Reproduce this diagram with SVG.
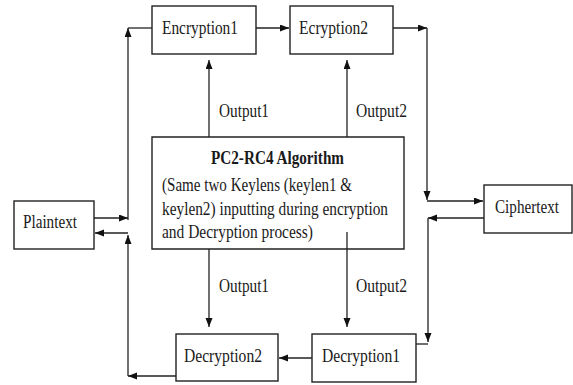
<svg xmlns="http://www.w3.org/2000/svg" width="573" height="385" viewBox="0 0 573 385">
<style>
.box{fill:#fff;stroke:#222;stroke-width:1.4}
.t{font-family:"Liberation Serif","Times New Roman",serif;font-size:19px;fill:#1a1a1a}
.b{font-weight:bold}
.c{fill:none;stroke:#222;stroke-width:1.3}
</style>
<defs>
<marker id="ah" markerUnits="userSpaceOnUse" markerWidth="10" markerHeight="8" refX="9" refY="3.5" orient="auto">
<path d="M0,0 L9,3.5 L0,7 z" fill="#111"/>
</marker>
</defs>
<rect width="573" height="385" fill="#fff"/>
<g id="connectors">
<path class="c" d="M94,218 H128" marker-end="url(#ah)"/>
<path class="c" d="M128,220 V28" marker-end="url(#ah)"/>
<path class="c" d="M128,28 H152"/>
<path class="c" d="M256,28 H289" marker-end="url(#ah)"/>
<path class="c" d="M393,28 H427" marker-end="url(#ah)"/>
<path class="c" d="M427,28 V200" marker-end="url(#ah)"/>
<path class="c" d="M427,201 H483" marker-end="url(#ah)"/>
<path class="c" d="M484,218 H428" marker-end="url(#ah)"/>
<path class="c" d="M428,218 V342" marker-end="url(#ah)"/>
<path class="c" d="M416,344 H428"/>
<path class="c" d="M312,358 H279" marker-end="url(#ah)"/>
<path class="c" d="M176,376 H128" marker-end="url(#ah)"/>
<path class="c" d="M128,376 V235" marker-end="url(#ah)"/>
<path class="c" d="M128,233 H95" marker-end="url(#ah)"/>
<path class="c" d="M209,137 V60" marker-end="url(#ah)"/>
<path class="c" d="M347,137 V60" marker-end="url(#ah)"/>
<path class="c" d="M209,249 V327" marker-end="url(#ah)"/>
<path class="c" d="M347,232 V327" marker-end="url(#ah)"/>
<text class="t" x="219" y="117" textLength="50" lengthAdjust="spacingAndGlyphs">Output1</text>
<text class="t" x="356" y="117" textLength="51" lengthAdjust="spacingAndGlyphs">Output2</text>
<text class="t" x="219" y="292" textLength="50" lengthAdjust="spacingAndGlyphs">Output1</text>
<text class="t" x="356" y="292" textLength="51" lengthAdjust="spacingAndGlyphs">Output2</text>
</g>
<g id="plaintext">
<rect class="box" x="14" y="201" width="80" height="48"/>
<text class="t" x="23" y="228" textLength="54" lengthAdjust="spacingAndGlyphs">Plaintext</text>
</g>
<g id="encryption1">
<rect class="box" x="152" y="6" width="104" height="48"/>
<text class="t" x="162" y="34" textLength="76" lengthAdjust="spacingAndGlyphs">Encryption1</text>
</g>
<g id="ecryption2">
<rect class="box" x="290" y="6" width="103" height="48"/>
<text class="t" x="299" y="34" textLength="69" lengthAdjust="spacingAndGlyphs">Ecryption2</text>
</g>
<g id="ciphertext">
<rect class="box" x="484" y="185" width="88" height="48"/>
<text class="t" x="495" y="213" textLength="64" lengthAdjust="spacingAndGlyphs">Ciphertext</text>
</g>
<g id="algorithm">
<path class="box" d="M152,137 H404 V249 H152 Z"/>
<text class="t b" x="211" y="164" textLength="133" lengthAdjust="spacingAndGlyphs">PC2-RC4 Algorithm</text>
<text class="t" x="162" y="191" textLength="190" lengthAdjust="spacingAndGlyphs">(Same two Keylens (keylen1 &amp;</text>
<text class="t" x="162" y="215" textLength="226" lengthAdjust="spacingAndGlyphs">keylen2) inputting during encryption</text>
<text class="t" x="162" y="238" textLength="151" lengthAdjust="spacingAndGlyphs">and Decryption process)</text>
<path class="c" d="M347,232 V249"/>
</g>
<g id="decryption1">
<rect class="box" x="312" y="334" width="104" height="48"/>
<text class="t" x="322" y="362" textLength="78" lengthAdjust="spacingAndGlyphs">Decryption1</text>
</g>
<g id="decryption2">
<rect class="box" x="176" y="334" width="102" height="47"/>
<text class="t" x="184" y="362" textLength="78" lengthAdjust="spacingAndGlyphs">Decryption2</text>
</g>
</svg>
